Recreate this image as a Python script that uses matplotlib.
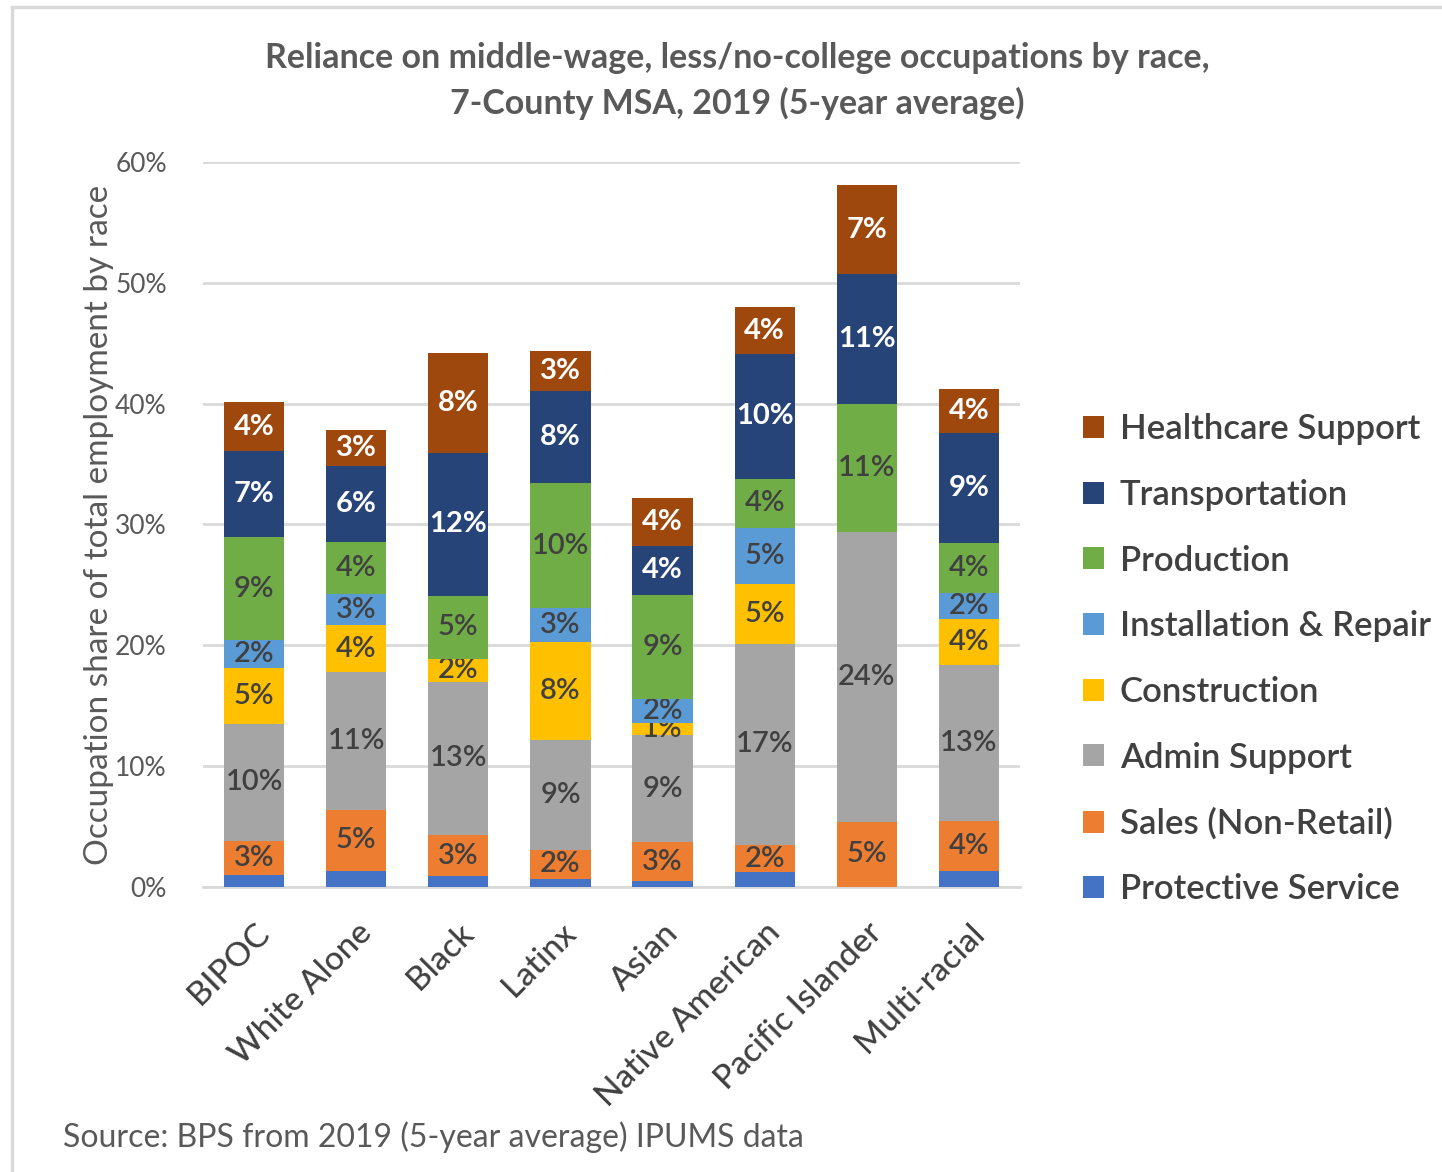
import numpy as np
import matplotlib.pyplot as plt
from matplotlib.patches import Rectangle
from matplotlib.ticker import PercentFormatter

plt.rcParams['font.family'] = ['Lato', 'DejaVu Sans']

# categories along the x axis
races = ['BIPOC', 'White Alone', 'Black', 'Latinx', 'Asian',
         'Native American', 'Pacific Islander', 'Multi-racial']

# occupation shares (%), bottom to top
protective = [1.0, 1.35, 0.9, 0.7, 0.5, 1.2, 0.0, 1.35]
sales = [2.8, 5.0, 3.4, 2.4, 3.2, 2.3, 5.4, 4.1]
admin = [9.7, 11.4, 12.7, 9.1, 8.85, 16.6, 24.0, 12.95]
construction = [4.6, 3.9, 1.9, 8.05, 1.0, 5.0, 0.0, 3.8]
install = [2.3, 2.6, 0.0, 2.8, 2.0, 4.6, 0.0, 2.1]
production = [8.6, 4.3, 5.2, 10.4, 8.6, 4.1, 10.6, 4.2]
transport = [7.1, 6.3, 11.85, 7.6, 4.1, 10.3, 10.7, 9.1]
healthcare = [4.0, 3.0, 8.25, 3.3, 3.9, 3.9, 7.4, 3.6]

series = [
    ('Protective Service', protective, '#4472C4', None),
    ('Sales (Non-Retail)', sales, '#ED7D31', '#404040'),
    ('Admin Support', admin, '#A5A5A5', '#404040'),
    ('Construction', construction, '#FFC000', '#404040'),
    ('Installation & Repair', install, '#5B9BD5', '#404040'),
    ('Production', production, '#70AD47', '#404040'),
    ('Transportation', transport, '#264478', 'white'),
    ('Healthcare Support', healthcare, '#9E480E', 'white'),
]

fig = plt.figure(figsize=(14.42, 11.72), dpi=100)
ax = fig.add_axes([0.1408, 0.2432, 0.5666, 0.6186])

# light frame like the original chart box
fig.patches.append(Rectangle((12 / 1442, -0.01), 1.1, 1 - 7 / 1172 + 0.01,
                             transform=fig.transFigure, fill=False,
                             edgecolor='#D9D9D9', linewidth=2.5))

x = np.arange(len(races))
bottom = np.zeros(len(races))
handles = []
for name, vals, color, txtcol in series:
    vals = np.array(vals)
    bars = ax.bar(x, vals, 0.59, bottom=bottom, color=color, label=name,
                  zorder=3)
    handles.append(bars)
    # protective service is too thin to carry a label
    if txtcol is not None:
        labels = ['%d%%' % int(v + 0.5) if v > 0 else '' for v in vals]
        ax.bar_label(bars, labels=labels, label_type='center', color=txtcol,
                     fontsize=21, fontweight='bold' if txtcol == 'white' else 'semibold')
    bottom += vals

ax.set_xlim(-0.5, len(races) - 0.5)
ax.set_ylim(0, 60)
ax.set_yticks(np.arange(0, 61, 10))
ax.yaxis.set_major_formatter(PercentFormatter(decimals=0))
ax.grid(axis='y', color='#D9D9D9', linewidth=2, zorder=0)
for s in ['top', 'right', 'left']:
    ax.spines[s].set_visible(False)
ax.spines['bottom'].set_color('#D9D9D9')
ax.spines['bottom'].set_linewidth(2)
ax.tick_params(length=0)
ax.tick_params(axis='y', labelsize=19, labelcolor='#595959', pad=26)
ax.set_xticks(x)
ax.set_xticklabels(races, rotation=45, ha='right', rotation_mode='anchor',
                   fontsize=24, color='#404040', fontweight='medium')
ax.tick_params(axis='x', pad=22)
ax.set_ylabel('Occupation share of total employment by race', fontsize=24,
              color='#595959', labelpad=1)

fig.text(0.511, 0.931, 'Reliance on middle-wage, less/no-college occupations by race,\n'
         '7-County MSA, 2019 (5-year average)', ha='center', va='center',
         fontsize=24.5, color='#595959', fontweight='bold', linespacing=1.45)

fig.text(63 / 1442, 1 - 1137 / 1172, 'Source: BPS from 2019 (5-year average) IPUMS data',
         ha='left', va='center', fontsize=23, color='#595959')

fig.legend(handles[::-1], [s[0] for s in series][::-1], loc='upper left',
           bbox_to_anchor=(1052 / 1442, 1 - 382 / 1172), frameon=False,
           prop={'size': 25, 'weight': 'semibold'}, labelcolor='#404040',
           handlelength=0.6, handleheight=0.6, handletextpad=0.45,
           labelspacing=0.97)

plt.savefig('out.png')
